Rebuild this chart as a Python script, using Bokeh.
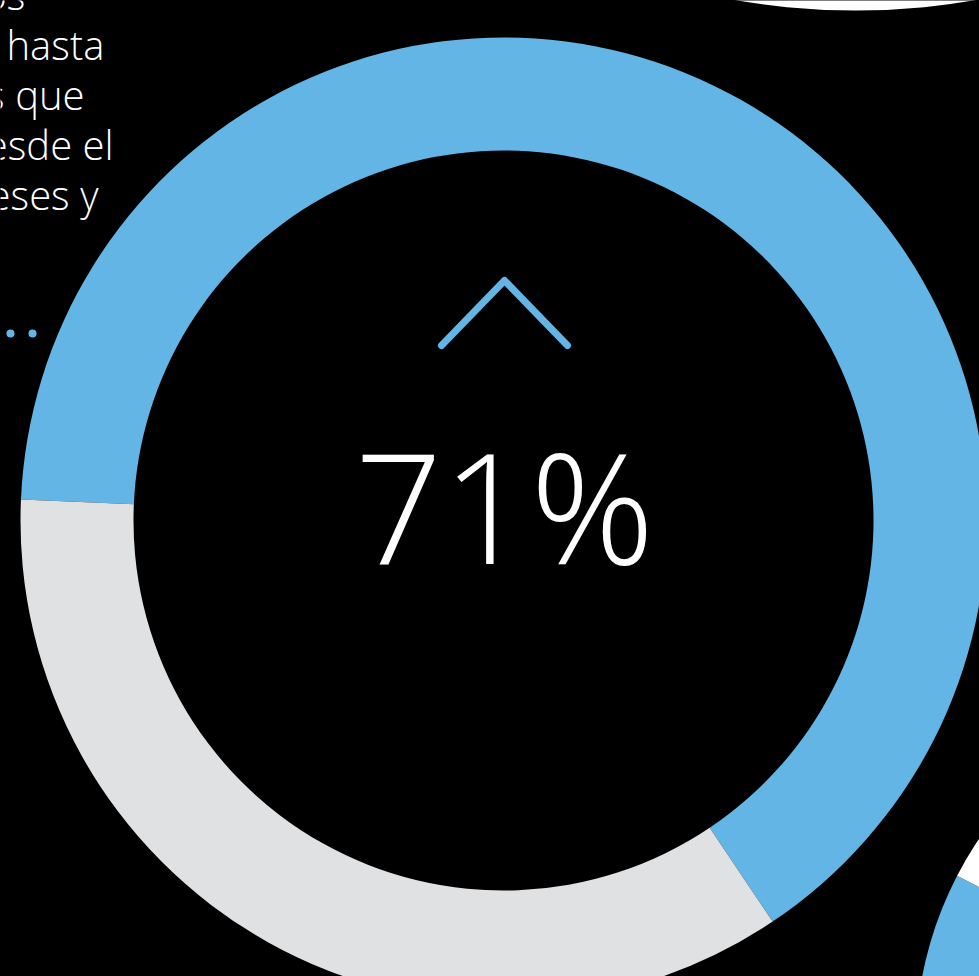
from bokeh.plotting import figure
from bokeh.models import Range1d, GlobalInlineStyleSheet
from bokeh.core.properties import value
from bokeh.embed import file_html
from bokeh.resources import INLINE

# ---------------- data ----------------
main_labels = ["Sí", "No"]
main_shares = [64.9, 35.1]          # arc shares as drawn (percent of ring)
main_colors = ["#62B5E5", "#E0E1E3"]
main_start_deg = 177.5              # blue arc starts on the left, runs clockwise
headline = "71%"

side_shares = [75.0, 25.0]          # partly visible neighbour donut (bottom right)
side_colors = ["#62B5E5", "#FFFFFF"]
side_start_deg = 152.6 + 0.75 * 360

body_lines = ["os", "hasta", "s que", "esde el", "eses y"]

# ---------------- layout (reference pixel space, y up) ----------------
W, H = 979, 976
def Y(y_ref):
    return H - y_ref

FONT = value("Open Sans Light, Open Sans")

p = figure(width=W, height=H,
           x_range=Range1d(0, W), y_range=Range1d(0, H),
           x_axis_location=None, y_axis_location=None,
           toolbar_location=None, output_backend="svg",
           background_fill_color="#000000", border_fill_color="#000000",
           outline_line_color=None, min_border=0)
p.grid.visible = False
p.stylesheets = [GlobalInlineStyleSheet(css="html, body { background-color: #000000; }")]

# main donut
cx, cy = 503, Y(520)
r_in, r_out = 370, 483
ang = main_start_deg
for share, col in zip(main_shares, main_colors):
    span = share / 100 * 360
    p.annular_wedge(x=cx, y=cy, inner_radius=r_in, outer_radius=r_out,
                    start_angle=ang, end_angle=ang - span, direction="clock",
                    start_angle_units="deg", end_angle_units="deg",
                    fill_color=col, line_color=None)
    ang -= span

# neighbour donut, bottom right
sx, sy = 1286, Y(1046)
s_out = 371
s_in = s_out * r_in / r_out
ang = side_start_deg
for share, col in zip(side_shares, side_colors):
    span = share / 100 * 360
    p.annular_wedge(x=sx, y=sy, inner_radius=s_in, outer_radius=s_out,
                    start_angle=ang, end_angle=ang - span, direction="clock",
                    start_angle_units="deg", end_angle_units="deg",
                    fill_color=col, line_color=None)
    ang -= span

# neighbour donut, top right (only its white rim shows)
tx, ty = 855, Y(-690)
t_out = 700
p.annular_wedge(x=tx, y=ty, inner_radius=t_out * r_in / r_out, outer_radius=t_out,
                start_angle=0, end_angle=360, start_angle_units="deg", end_angle_units="deg",
                fill_color="#FFFFFF", line_color=None)

# caret icon
p.line(x=[cx - 62, cx + 1, cx + 64], y=[cy + 175, cy + 240, cy + 175],
       line_color="#62B5E5", line_width=7, line_cap="round", line_join="round")

# headline value (baseline at y_ref 567)
fs_big = 154
p.text(x=[cx + 1], y=[Y(567 - 0.41 * fs_big)], text=[headline], text_align="center",
       text_baseline="alphabetic", text_color="#FFFFFF",
       text_font=FONT, text_font_size=f"{fs_big}px")

# cropped body text at top left
fs_body = 40
right_edges = [25, 104, 84, 113, 98]
baselines = [Y(8 + 50 * i - 0.36 * fs_body) for i in range(len(body_lines))]
p.text(x=right_edges, y=baselines, text=body_lines, text_align="right",
       text_baseline="alphabetic", text_color="#FFFFFF",
       text_font=FONT, text_font_size=f"{fs_body}px")

# ellipsis dots
p.scatter(x=[10, 32], y=[Y(333), Y(333)], size=8, marker="circle",
          fill_color="#62B5E5", line_color=None)

open("out.html", "w").write(file_html(p, INLINE))
